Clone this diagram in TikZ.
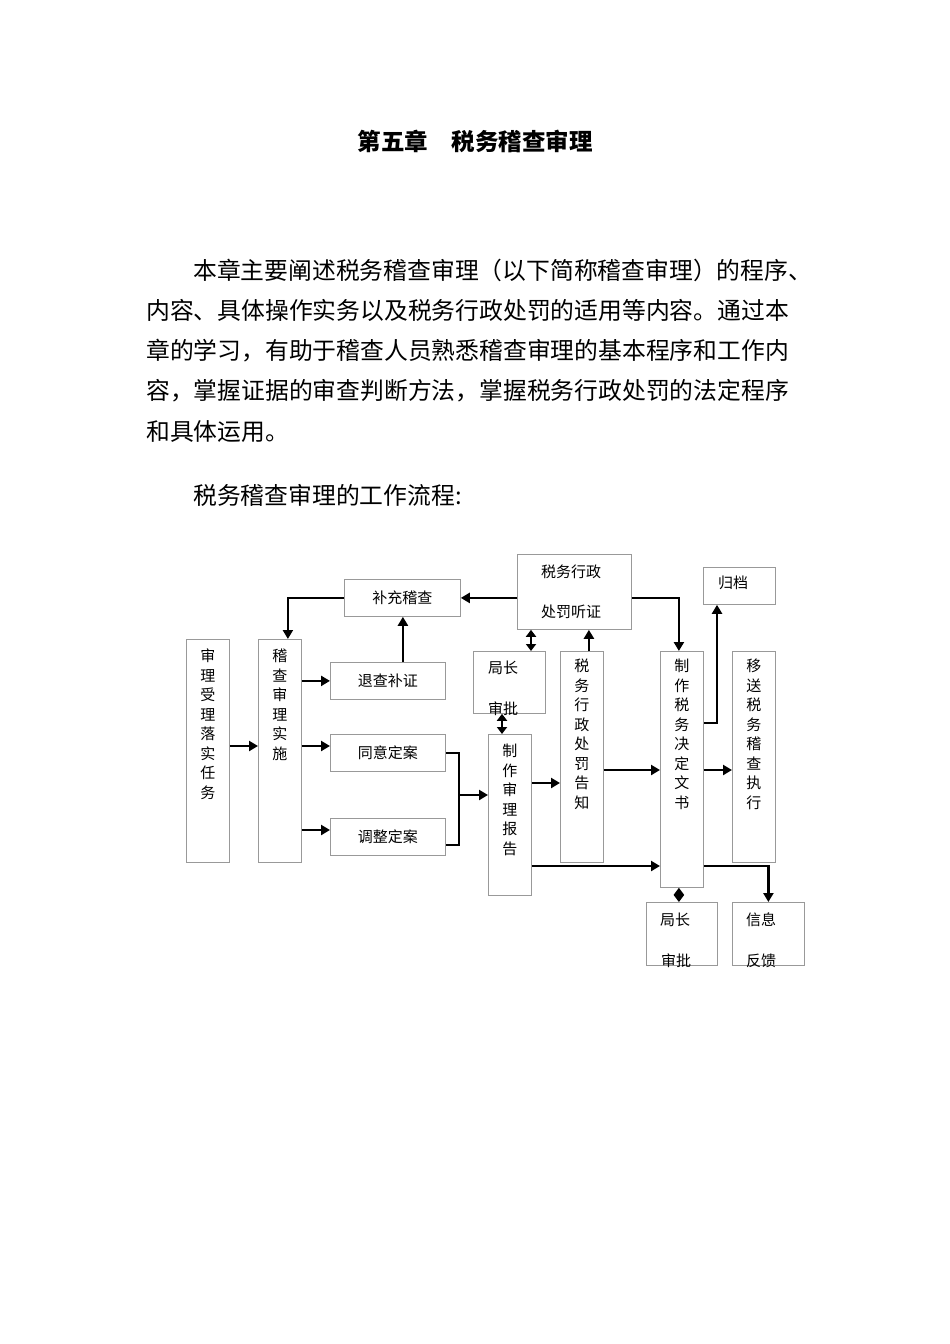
\documentclass[tikz,border=0pt]{standalone}
\usepackage{fontspec}
\setmainfont{Noto Sans CJK SC}
\newfontfamily\cjk{Noto Sans CJK SC}
\usetikzlibrary{arrows.meta}
\tikzset{
  bx/.style={draw=black!40, line width=0.8pt, inner sep=0, anchor=north west},
  vt/.style={anchor=north, align=center, inner sep=0, font=\fontsize{15}{19.5}\selectfont},
  ht/.style={inner sep=0, font=\fontsize{15}{18}\selectfont},
  arr/.style={line width=2.4pt, -{Triangle[length=9pt,width=10pt]}},
  darr/.style={line width=2.4pt, {Triangle[length=7pt,width=10pt]}-{Triangle[length=7pt,width=10pt]}},
  ln/.style={line width=2.4pt},
  para/.style={anchor=west, inner sep=0, font=\fontsize{23.8}{24}\selectfont}
}
\newcommand{\mybx}[5]{\node[bx, minimum width=#4-#2, minimum height=#5-#3] (#1) at (#2,#3) {};}
\begin{document}
\begin{tikzpicture}[x=1pt,y=-1pt]
\useasboundingbox[fill=white] (0,0) rectangle (950,1344);
\node[font=\bfseries\fontsize{23.5}{24}\selectfont] (title) at (475,141) {第五章\quad 税务稽查审理};
\node[para] (p1) at (193,270) {本章主要阐述税务稽查审理（以下简称稽查审理）的程序、};
\node[para] (p2) at (146,310) {内容、具体操作实务以及税务行政处罚的适用等内容。通过本};
\node[para] (p3) at (146,351) {章的学习，有助于稽查人员熟悉稽查审理的基本程序和工作内};
\node[para] (p4) at (146,391) {容，掌握证据的审查判断方法，掌握税务行政处罚的法定程序};
\node[para] (p5) at (146,432) {和具体运用。};
\node[para] (p6) at (193,495) {税务稽查审理的工作流程:};

\mybx{A}{186}{639}{229}{862}
\mybx{B}{258}{639}{301}{862}
\mybx{S}{344}{579}{460}{616}
\mybx{T}{330}{662}{445}{699}
\mybx{U}{330}{734}{445}{771}
\mybx{V}{330}{818}{445}{855}
\mybx{J}{473}{651}{545}{713}
\mybx{H}{517}{554}{631}{629}
\mybx{R}{488}{734}{531}{895}
\mybx{G}{560}{651}{603}{862}
\mybx{D}{660}{651}{703}{887}
\mybx{F}{703}{567}{775}{604}
\mybx{Y}{732}{651}{775}{862}
\mybx{K}{646}{902}{717}{965}
\mybx{X}{732}{902}{804}{965}

\node[vt] (At) at ([yshift=-10pt]A.north) {审\\理\\受\\理\\落\\实\\任\\务};
\node[vt] (Bt) at ([yshift=-10pt]B.north) {稽\\查\\审\\理\\实\\施};
\node[ht] (St) at (S) {补充稽查};
\node[ht] (Tt) at (T) {退查补证};
\node[ht] (Ut) at (U) {同意定案};
\node[ht] (Vt) at (V) {调整定案};
\node[ht] (Jt1) at (503,668) {局长};
\node[ht] (Jt2) at (503,709) {审批};
\node[ht] (Ht1) at (571,572) {税务行政};
\node[ht] (Ht2) at (571,612) {处罚听证};
\node[vt] (Rt) at ([yshift=-10pt]R.north) {制\\作\\审\\理\\报\\告};
\node[vt] (Gt) at ([yshift=-8pt]G.north) {税\\务\\行\\政\\处\\罚\\告\\知};
\node[vt] (Dt) at ([yshift=-8pt]D.north) {制\\作\\税\\务\\决\\定\\文\\书};
\node[ht] (Ft) at (733,583) {归档};
\node[vt] (Yt) at ([yshift=-8pt]Y.north) {移\\送\\税\\务\\稽\\查\\执\\行};
\node[ht] (Kt1) at (675,920) {局长};
\node[ht] (Kt2) at (676,961) {审批};
\node[ht] (Xt1) at (761,920) {信息};
\node[ht] (Xt2) at (761,961) {反馈};

\coordinate (m2) at (459,845);
\coordinate (m3) at (459,795);

\draw[arr] (A.east |- 0,746) -- (B.west |- 0,746);
\draw[arr] (B.east |- T.west) -- (T.west);
\draw[arr] (B.east |- 0,746) -- (U.west |- 0,746);
\draw[arr] (B.east |- 0,830) -- (V.west |- 0,830);
\draw[arr] ([xshift=15pt]T.north) -- ([xshift=15pt]T.north |- S.south);
\draw[arr] (S.west) -| ([xshift=8pt]B.north);
\draw[arr] (H.west |- S.east) -- (S.east);
\draw[arr] (H.east |- S.east) -| ([xshift=-3pt]D.north);
\draw[darr] ([xshift=14pt]H.south west) -- ([xshift=58pt]J.north west);
\draw[arr] ([xshift=7pt]G.north) -- ([xshift=7pt]G.north |- H.south);
\draw[darr] ([xshift=29pt]J.south west) -- ([xshift=14pt]R.north west);
\draw[ln] (U.east) -| (m2) -- (V.east |- m2);
\draw[arr] (m3) -- (R.west |- m3);
\draw[arr] (R.east |- 0,783) -- (G.west |- 0,783);
\draw[arr] (R.east |- 0,866) -- (D.west |- 0,866);
\draw[arr] (G.east |- 0,770) -- (D.west |- 0,770);
\draw[arr] (D.east |- 0,770) -- (Y.west |- 0,770);
\draw[arr] (D.east |- 0,723) -| ([xshift=14pt]F.south west);
\draw[arr] (D.east |- 0,866) -| (X.north);
\draw[darr] ([xshift=-3pt]D.south) -- ([xshift=-3pt]D.south |- K.north);
\end{tikzpicture}
\end{document}
